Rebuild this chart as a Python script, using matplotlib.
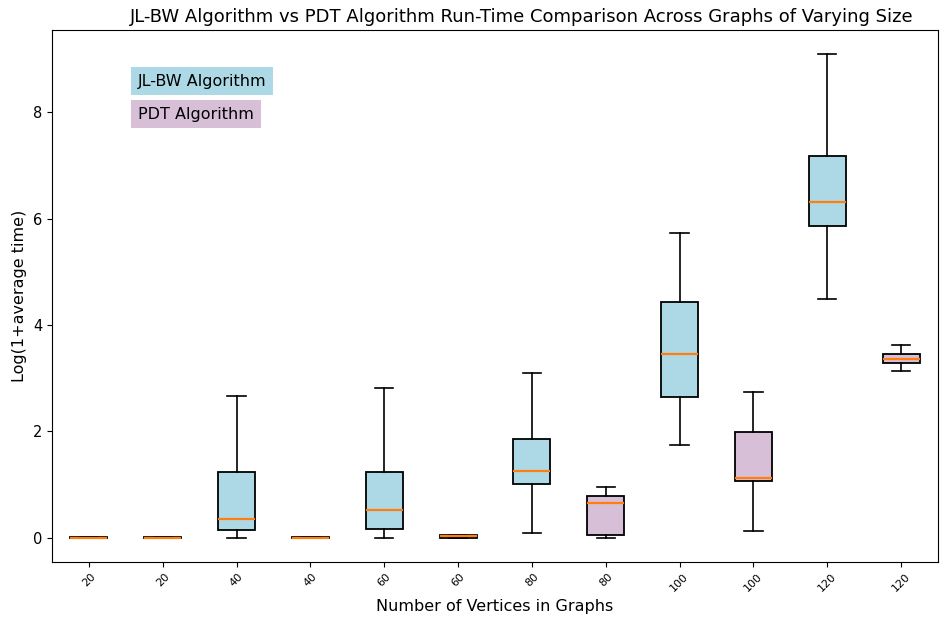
import matplotlib
matplotlib.use("Agg")
import matplotlib.pyplot as plt

labels = ["20", "20", "40", "40", "60", "60", "80", "80", "100", "100", "120", "120"]
algorithms = ["JL-BW", "PDT"] * 6
whislo = [0.0, 0.0, 0.0, 0.0, 0.0, 0.0, 0.09, 0.0, 1.75, 0.13, 4.48, 3.14]
q1 = [0.0, 0.0, 0.15, 0.0, 0.17, 0.0, 1.02, 0.06, 2.64, 1.07, 5.87, 3.29]
med = [0.0, 0.0, 0.36, 0.0, 0.53, 0.03, 1.25, 0.66, 3.45, 1.12, 6.31, 3.37]
q3 = [0.02, 0.02, 1.24, 0.02, 1.24, 0.05, 1.86, 0.78, 4.44, 1.98, 7.17, 3.46]
whishi = [0.02, 0.02, 2.67, 0.02, 2.82, 0.05, 3.10, 0.96, 5.72, 2.75, 9.09, 3.63]

colors = {"JL-BW": "lightblue", "PDT": "thistle"}

stats = []
for i in range(len(labels)):
    stats.append(dict(label=labels[i], whislo=whislo[i], q1=q1[i], med=med[i],
                      q3=q3[i], whishi=whishi[i], fliers=[]))

fig = plt.figure(figsize=(9.4, 6.25), dpi=100)
ax = fig.add_axes([52/940, 1-562/625, 886/940, 532/625])
bp = ax.bxp(stats, positions=range(1, len(labels)+1), widths=0.5,
            patch_artist=True, showfliers=False,
            boxprops=dict(linewidth=1.3),
            whiskerprops=dict(linewidth=1.2),
            capprops=dict(linewidth=1.2),
            medianprops=dict(color="#ff7f0e", linewidth=1.6))
for patch, alg in zip(bp["boxes"], algorithms):
    patch.set_facecolor(colors[alg])
    patch.set_edgecolor("black")

ax.set_xticks(range(1, len(labels)+1))
ax.set_xticklabels(labels, rotation=45, fontsize=8)
ax.tick_params(axis="y", labelsize=10.5)
ax.set_xlabel("Number of Vertices in Graphs", fontsize=11.5)
ax.set_ylabel("Log(1+average time)", fontsize=11.5)
ax.set_title("JL-BW Algorithm vs PDT Algorithm Run-Time Comparison Across Graphs of Varying Size",
             fontsize=13, x=0.53)

ax.text(0.097, 0.904, "JL-BW Algorithm", transform=ax.transAxes, va="center",
        fontsize=11.5, bbox=dict(facecolor="lightblue", edgecolor="none", pad=5))
ax.text(0.097, 0.842, "PDT Algorithm", transform=ax.transAxes, va="center",
        fontsize=11.5, bbox=dict(facecolor="thistle", edgecolor="none", pad=5))

fig.savefig("out.png", dpi=100)
